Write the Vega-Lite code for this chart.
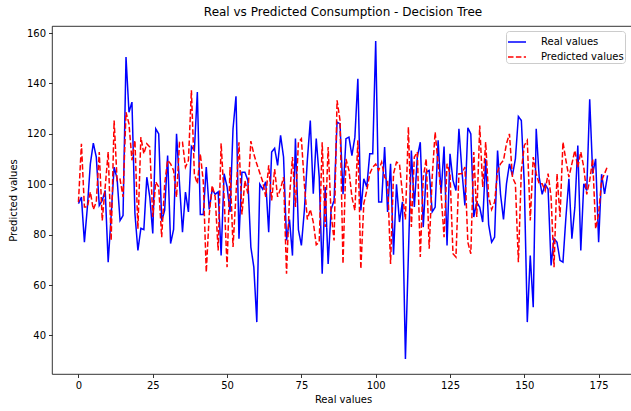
{
"$schema": "https://vega.github.io/schema/vega-lite/v6.json",
"width": 582, "height": 348,
"autosize": {"type": "none"},
"padding": {"left": 52, "top": 26, "right": 0, "bottom": 37},
"background": "white",
"title": {"text": "Real vs Predicted Consumption - Decision Tree", "fontSize": 12, "fontWeight": "normal", "color": "black", "offset": 7, "anchor": "middle"},
"data": {"values": [
{"i":0,"real":92.3,"pred":92.9},{"i":1,"real":94.9,"pred":116.1},{"i":2,"real":77,"pred":91},{"i":3,"real":90.9,"pred":91},{"i":4,"real":108.1,"pred":96.9},{"i":5,"real":116.3,"pred":90},{"i":6,"real":110.8,"pred":93},{"i":7,"real":91.6,"pred":112.8},{"i":8,"real":93.6,"pred":85.6},{"i":9,"real":97.5,"pred":99},
{"i":10,"real":69.1,"pred":112.8},{"i":11,"real":87.6,"pred":77.7},{"i":12,"real":106.8,"pred":125.3},{"i":13,"real":102.2,"pred":101.5},{"i":14,"real":85.6,"pred":102},{"i":15,"real":87.6,"pred":95},{"i":16,"real":150.5,"pred":128.6},{"i":17,"real":128.6,"pred":124},{"i":18,"real":132.6,"pred":109.5},{"i":19,"real":88.3,"pred":117.4},
{"i":20,"real":73.7,"pred":82.3},{"i":21,"real":82.5,"pred":118.7},{"i":22,"real":82,"pred":112.1},{"i":23,"real":102.8,"pred":116.1},{"i":24,"real":94.9,"pred":114.8},{"i":25,"real":80.5,"pred":87},{"i":26,"real":122,"pred":100.9},{"i":27,"real":120,"pred":98.9},{"i":28,"real":85.5,"pred":79},{"i":29,"real":89.6,"pred":100},
{"i":30,"real":111.4,"pred":109.5},{"i":31,"real":76.5,"pred":108.1},{"i":32,"real":82,"pred":105.5},{"i":33,"real":120,"pred":94.9},{"i":34,"real":100.2,"pred":116.7},{"i":35,"real":81,"pred":116.7},{"i":36,"real":96.9,"pred":106.8},{"i":37,"real":89,"pred":109.5},{"i":38,"real":115,"pred":137.3},{"i":39,"real":113.4,"pred":104},
{"i":40,"real":136.6,"pred":100.2},{"i":41,"real":88,"pred":112.1},{"i":42,"real":88,"pred":101},{"i":43,"real":106.8,"pred":65.1},{"i":44,"real":90,"pred":88},{"i":45,"real":98,"pred":99.5},{"i":46,"real":96,"pred":95},{"i":47,"real":97,"pred":73.7},{"i":48,"real":71.7,"pred":116.3},{"i":49,"real":104.2,"pred":95},
{"i":50,"real":99,"pred":67.1},{"i":51,"real":89,"pred":106.8},{"i":52,"real":122,"pred":75.1},{"i":53,"real":134.9,"pred":96},{"i":54,"real":78.4,"pred":116.7},{"i":55,"real":104.8,"pred":88},{"i":56,"real":104.8,"pred":101.5},{"i":57,"real":101.5,"pred":96.3},{"i":58,"real":75.1,"pred":117.1},{"i":59,"real":67.1,"pred":112},
{"i":60,"real":45.3,"pred":108},{"i":61,"real":100,"pred":104.5},{"i":62,"real":98,"pred":101},{"i":63,"real":101,"pred":95},{"i":64,"real":81,"pred":107.5},{"i":65,"real":112.8,"pred":93.6},{"i":66,"real":114.3,"pred":106},{"i":67,"real":107.5,"pred":95},{"i":68,"real":119.4,"pred":98.2},{"i":69,"real":110.8,"pred":102.8},
{"i":70,"real":77.7,"pred":64.5},{"i":71,"real":86,"pred":94.9},{"i":72,"real":71.7,"pred":110.8},{"i":73,"real":118.1,"pred":91},{"i":74,"real":82,"pred":116.7},{"i":75,"real":75.7,"pred":118.1},{"i":76,"real":89.6,"pred":100},{"i":77,"real":109.5,"pred":86},{"i":78,"real":125.3,"pred":90},{"i":79,"real":96.2,"pred":85},
{"i":80,"real":118.1,"pred":76},{"i":81,"real":102.8,"pred":77},{"i":82,"real":64.5,"pred":116.7},{"i":83,"real":98.9,"pred":83},{"i":84,"real":68.4,"pred":114.8},{"i":85,"real":90,"pred":88.3},{"i":86,"real":93.6,"pred":77.7},{"i":87,"real":124.7,"pred":133.3},{"i":88,"real":124,"pred":125.3},{"i":89,"real":96,"pred":68.4},
{"i":90,"real":118.1,"pred":110},{"i":91,"real":118.7,"pred":105.5},{"i":92,"real":111.4,"pred":94.9},{"i":93,"real":118.7,"pred":89.6},{"i":94,"real":141.9,"pred":117.4},{"i":95,"real":89.6,"pred":66.4},{"i":96,"real":102.2,"pred":92.3},{"i":97,"real":98.9,"pred":97.5},{"i":98,"real":112.1,"pred":104.2},{"i":99,"real":112.1,"pred":106.8},
{"i":100,"real":156.8,"pred":108},{"i":101,"real":93,"pred":105.5},{"i":102,"real":93,"pred":108.8},{"i":103,"real":114.8,"pred":102.8},{"i":104,"real":89,"pred":101.5},{"i":105,"real":108.1,"pred":68.4},{"i":106,"real":72,"pred":104.2},{"i":107,"real":100,"pred":108.8},{"i":108,"real":85,"pred":108.1},{"i":109,"real":93,"pred":96.2},
{"i":110,"real":30.7,"pred":86},{"i":111,"real":72,"pred":122.7},{"i":112,"real":113.4,"pred":83},{"i":113,"real":91,"pred":110.8},{"i":114,"real":110.8,"pred":112.8},{"i":115,"real":116.7,"pred":71.1},{"i":116,"real":83,"pred":102.8},{"i":117,"real":104.8,"pred":110.1},{"i":118,"real":105.5,"pred":74.4},{"i":119,"real":89,"pred":102.8},
{"i":120,"real":90.9,"pred":120.7},{"i":121,"real":117.4,"pred":108.1},{"i":122,"real":96.2,"pred":96.2},{"i":123,"real":115,"pred":79},{"i":124,"real":75.7,"pred":108.1},{"i":125,"real":112.1,"pred":104.2},{"i":126,"real":101.5,"pred":72.4},{"i":127,"real":97.5,"pred":71.1},{"i":128,"real":122,"pred":104.2},{"i":129,"real":105.5,"pred":104.2},
{"i":130,"real":91.6,"pred":106.8},{"i":131,"real":122.4,"pred":77},{"i":132,"real":120,"pred":72.4},{"i":133,"real":87,"pred":112.8},{"i":134,"real":92.9,"pred":87},{"i":135,"real":90.9,"pred":123.3},{"i":136,"real":85,"pred":98.9},{"i":137,"real":110,"pred":116.7},{"i":138,"real":84,"pred":95},{"i":139,"real":77,"pred":90},
{"i":140,"real":79,"pred":92.9},{"i":141,"real":113.4,"pred":105},{"i":142,"real":96,"pred":108.1},{"i":143,"real":86,"pred":109.5},{"i":144,"real":100.2,"pred":116.1},{"i":145,"real":108.1,"pred":120},{"i":146,"real":103.5,"pred":102.8},{"i":147,"real":110.1,"pred":100.2},{"i":148,"real":126.9,"pred":69.1},{"i":149,"real":125.3,"pred":105.5},
{"i":150,"real":100,"pred":115.4},{"i":151,"real":45.3,"pred":117.4},{"i":152,"real":71.7,"pred":85.6},{"i":153,"real":51.2,"pred":110.8},{"i":154,"real":122,"pred":104.2},{"i":155,"real":102.8,"pred":100.2},{"i":156,"real":96,"pred":100.2},{"i":157,"real":100,"pred":97.5},{"i":158,"real":98,"pred":104.2},{"i":159,"real":67.8,"pred":95},
{"i":160,"real":78.4,"pred":67.1},{"i":161,"real":77,"pred":104.2},{"i":162,"real":69.8,"pred":87},{"i":163,"real":69.1,"pred":116.7},{"i":164,"real":87,"pred":109.5},{"i":165,"real":102.2,"pred":102.8},{"i":166,"real":78.4,"pred":108.1},{"i":167,"real":90.9,"pred":113.4},{"i":168,"real":115.4,"pred":106.8},{"i":169,"real":73.7,"pred":112.8},
{"i":170,"real":100.2,"pred":106.8},{"i":171,"real":97.5,"pred":96},{"i":172,"real":133.7,"pred":101.5},{"i":173,"real":104.2,"pred":110},{"i":174,"real":110.1,"pred":82.3},{"i":175,"real":77,"pred":88.3},{"i":176,"real":104,"pred":101.5},{"i":177,"real":96.2,"pred":104.2},{"i":178,"real":103.5,"pred":107.2}
]},
"transform": [{"fold": ["real", "pred"], "as": ["series", "value"]}],
"encoding": {
  "x": {"field": "i", "type": "quantitative", "scale": {"domain": [-8.9, 186.9], "nice": false, "zero": false}, "axis": {"values": [0,25,50,75,100,125,150,175], "title": "Real values"}},
  "y": {"field": "value", "type": "quantitative", "scale": {"domain": [24.7, 162.8], "nice": false, "zero": false}, "axis": {"values": [40,60,80,100,120,140,160], "title": "Predicted values"}},
  "color": {"field": "series", "type": "nominal", "scale": {"domain": ["real", "pred"], "range": ["#0000ff", "#ff0000"]},
    "legend": {"title": null, "orient": "none", "legendX": 454, "legendY": 5, "padding": 1, "strokeColor": "#cccccc", "fillColor": "white", "cornerRadius": 3, "symbolType": "stroke", "symbolSize": 324, "symbolStrokeWidth": 1.5, "labelFontSize": 10, "labelColor": "black", "rowPadding": -3, "labelOffset": 14, "labelExpr": "datum.label == 'real' ? 'Real values' : 'Predicted values'"}},
  "strokeDash": {"field": "series", "type": "nominal", "scale": {"domain": ["real", "pred"], "range": [[1, 0], [5.5, 2.4]]},
    "legend": {"title": null, "orient": "none", "legendX": 454, "legendY": 5, "padding": 1, "strokeColor": "#cccccc", "fillColor": "white", "cornerRadius": 3, "symbolType": "stroke", "symbolSize": 324, "symbolStrokeWidth": 1.5, "labelFontSize": 10, "labelColor": "black", "rowPadding": -3, "labelOffset": 14, "labelExpr": "datum.label == 'real' ? 'Real values' : 'Predicted values'"}}
},
"layer": [
  {"transform": [{"filter": "datum.series == 'real'"}], "mark": {"type": "line", "strokeWidth": 1.5, "clip": true}},
  {"transform": [{"filter": "datum.series == 'pred'"}], "mark": {"type": "line", "strokeWidth": 1.5, "clip": true}}
],
"config": {
  "font": "DejaVu Sans",
  "view": {"stroke": "black", "strokeWidth": 0.8},
  "axis": {"domain": false, "grid": false, "ticks": true, "tickColor": "black", "tickSize": 3.5, "tickWidth": 0.8, "labelColor": "black", "labelFontSize": 10, "titleFontSize": 10, "titleFontWeight": "normal", "titleColor": "black", "labelPadding": 3},
  "axisX": {"titlePadding": 4},
  "axisY": {"titlePadding": 8}
}
}
